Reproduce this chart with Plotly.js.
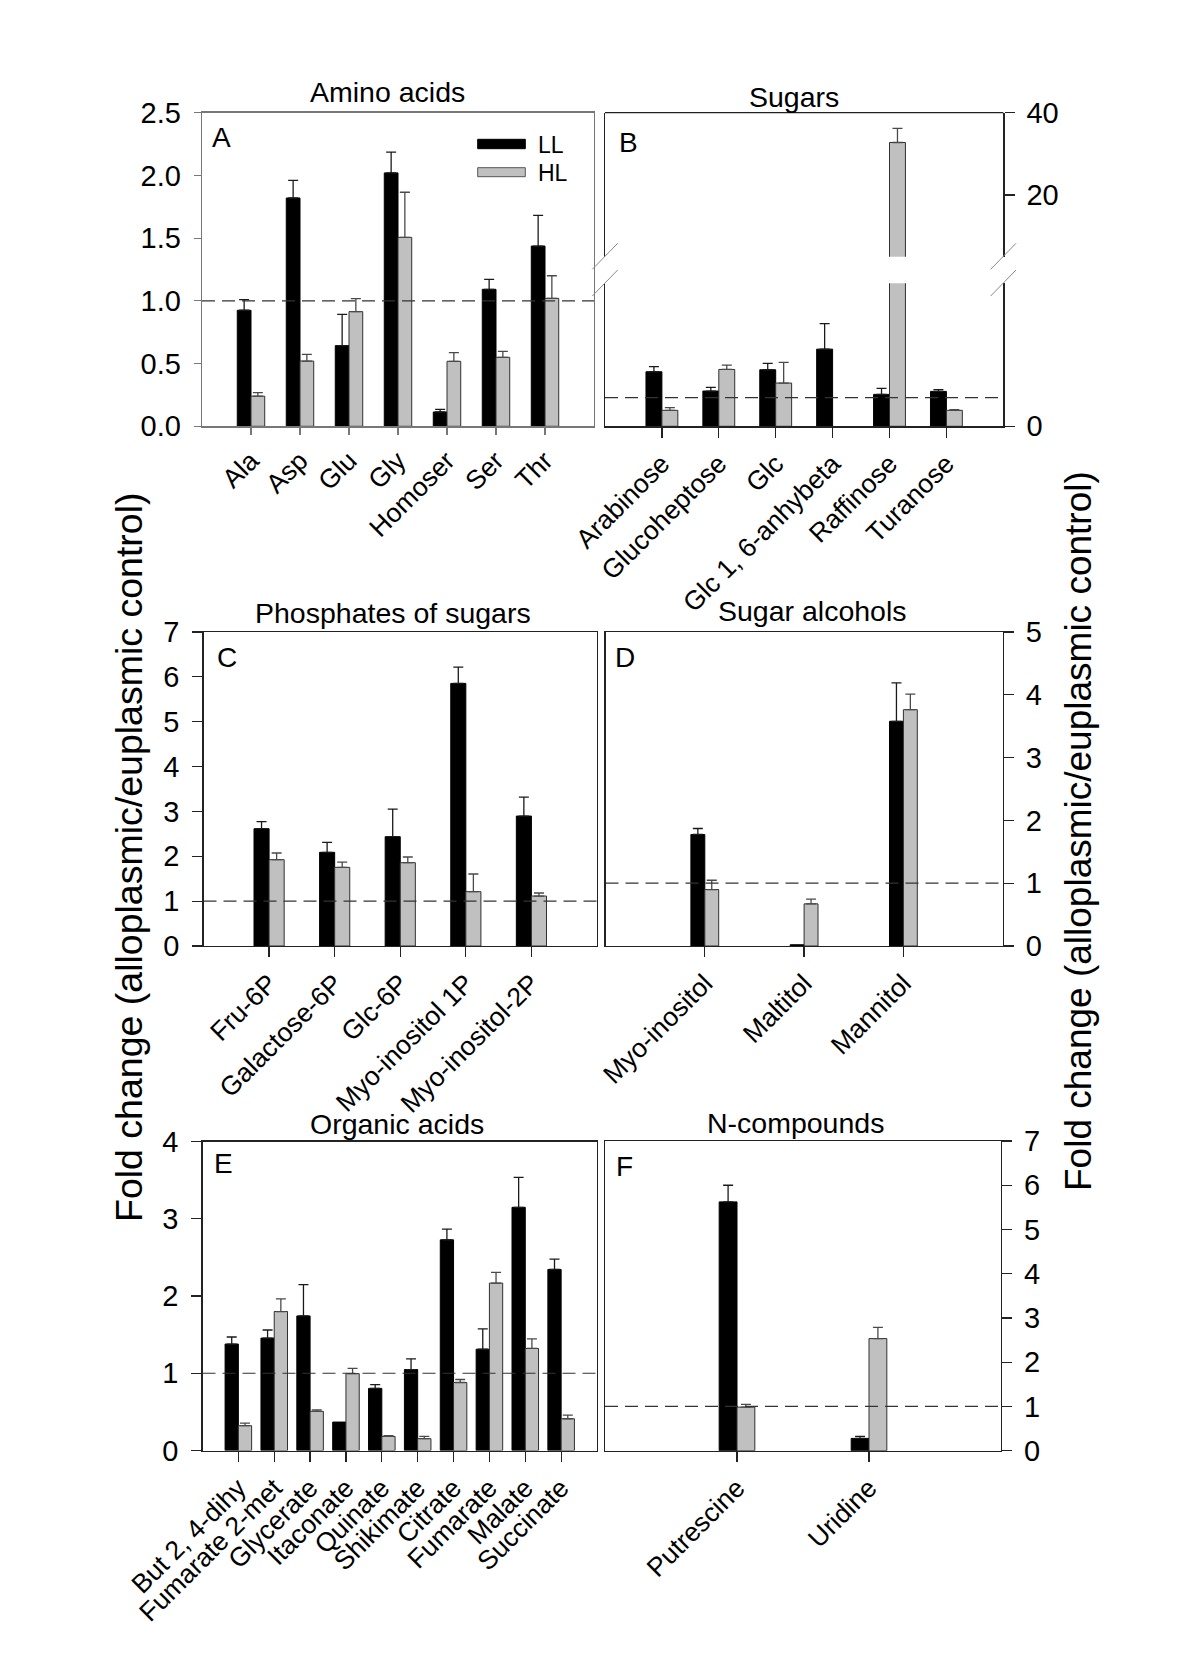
<!DOCTYPE html>
<html><head><meta charset="utf-8">
<script src="https://cdn.plot.ly/plotly-3.0.1.min.js"></script>
<style>html,body{margin:0;padding:0;background:#fff}</style>
</head><body><div id="chart" style="width:1200px;height:1680px"></div>
<script>
// ---------------- DATA ----------------
const aminoCats = ['Ala','Asp','Glu','Gly','Homoser','Ser','Thr'];
const aminoLL    = [0.925, 1.82, 0.643, 2.02, 0.114, 1.092, 1.437];
const aminoLLerr = [0.085, 0.14, 0.25, 0.165, 0.021, 0.08, 0.245];
const aminoHL    = [0.24, 0.52, 0.914, 1.506, 0.518, 0.55, 1.02];
const aminoHLerr = [0.028, 0.054, 0.104, 0.36, 0.069, 0.048, 0.18];

const sugarCats = ['Arabinose','Glucoheptose','Glc','Glc 1, 6-anhybeta','Raffinose','Turanose'];
const sugarLL    = [1.907, 1.233, 1.977, 2.698, 1.116, 1.221];
const sugarLLerr = [0.18, 0.127, 0.22, 0.895, 0.21, 0.058];
const sugarHL    = [0.558, 1.988, 1.512, null, 32.76, 0.558];
const sugarHLerr = [0.093, 0.152, 0.72, NaN, 3.44, 0.022];

const phosCats = ['Fru-6P','Galactose-6P','Glc-6P','Myo-inositol 1P','Myo-inositol-2P'];
const phosLL    = [2.615, 2.088, 2.437, 5.854, 2.897];
const phosLLerr = [0.156, 0.223, 0.616, 0.364, 0.424];
const phosHL    = [1.924, 1.753, 1.857, 1.211, 1.114];
const phosHLerr = [0.149, 0.119, 0.127, 0.394, 0.067];

const alcCats = ['Myo-inositol','Maltitol','Mannitol'];
const alcLL    = [1.776, 0.02, 3.578];
const alcLLerr = [0.095, NaN, 0.613];
const alcHL    = [0.899, 0.671, 3.763];
const alcHLerr = [0.148, 0.074, 0.249];

const orgCats = ['But 2, 4-dihy','Fumarate 2-met','Glycerate','Itaconate','Quinate','Shikimate','Citrate','Fumarate','Malate','Succinate'];
const orgLL    = [1.378, 1.455, 1.742, 0.368, 0.804, 1.048, 2.727, 1.311, 3.148, 2.344];
const orgLLerr = [0.091, 0.105, 0.406, NaN, 0.048, 0.139, 0.139, 0.263, 0.388, 0.134];
const orgHL    = [0.321, 1.799, 0.507, 0.995, 0.182, 0.153, 0.88, 2.167, 1.321, 0.411];
const orgHLerr = [0.033, 0.163, 0.019, 0.067, 0.01, 0.029, 0.039, 0.139, 0.124, 0.048];

const nCats = ['Putrescine','Uridine'];
const nLL    = [5.624, 0.278];
const nLLerr = [0.376, 0.045];
const nHL    = [0.985, 2.534];
const nHLerr = [0.06, 0.255];

const seriesNames = ['LL','HL'];
const panelTitles = ['Amino acids','Sugars','Phosphates of sugars','Sugar alcohols','Organic acids','N-compounds'];
const panelLetters = ['A','B','C','D','E','F'];
const yTitle = 'Fold change (alloplasmic/euplasmic control)';
const refLevel = 1;

// ---------------- HELPERS ----------------
const W = 1200, H = 1680;
const FONT = 'Liberation Sans, Arial, Helvetica, sans-serif';
const px = v => v / W;
const py = v => 1 - v / H;

function bars(cats, ll, llErr, hl, hlErr, w, xa, ya) {
  const mk = (vals, errs, isLL) => ({
    type: 'bar', name: isLL ? seriesNames[0] : seriesNames[1],
    x: cats, y: vals, xaxis: xa, yaxis: ya, width: w, offset: isLL ? -w : 0,
    marker: {color: isLL ? '#000000' : '#c0c0c0', line: {color: isLL ? '#000000' : '#303030', width: 1}},
    error_y: {type: 'data', symmetric: false, array: errs,
      arrayminus: errs.map(e => Number.isFinite(e) ? 0 : NaN),
      color: isLL ? '#1a1a1a' : '#4a4a4a', thickness: 1.3, width: 5},
    showlegend: false, hoverinfo: 'skip', cliponaxis: true
  });
  return [mk(ll, llErr, true), mk(hl, hlErr, false)];
}

function xax(x0, x1, anchor, n, color, mirror, tlen) {
  return {domain: [px(x0), px(x1)], anchor: anchor, type: 'category', range: [-1, n],
    showline: true, linecolor: color, linewidth: 1.3, mirror: mirror,
    ticks: 'outside', ticklen: tlen, tickcolor: color, tickwidth: 1.2, tickangle: -45,
    tickfont: {family: FONT, size: 26.5, color: '#000'}, showgrid: false, zeroline: false, fixedrange: true};
}
function yax(y0, y1, anchor, range, side, color, tlen, extra) {
  return Object.assign({domain: [py(y1), py(y0)], anchor: anchor, range: range, side: side,
    showline: true, linecolor: color, linewidth: 1.3, mirror: true,
    ticks: 'outside', ticklen: tlen, tickcolor: color, tickwidth: 1.2,
    ticklabelstandoff: side === 'left' ? 7 : 6,
    tickfont: {family: FONT, size: 29, color: '#000'}, showgrid: false, zeroline: false, fixedrange: true}, extra || {});
}

// ---------------- TRACES ----------------
let data = [];
data = data.concat(bars(aminoCats, aminoLL, aminoLLerr, aminoHL, aminoHLerr, 0.28, 'x', 'y'));
data = data.concat(bars(sugarCats, sugarLL, sugarLLerr, sugarHL, sugarHLerr, 0.28, 'x2', 'y2'));
data = data.concat(bars(sugarCats, sugarLL, sugarLLerr, sugarHL, sugarHLerr, 0.28, 'x2', 'y7'));
data = data.concat(bars(phosCats, phosLL, phosLLerr, phosHL, phosHLerr, 0.23, 'x3', 'y3'));
data = data.concat(bars(alcCats, alcLL, alcLLerr, alcHL, alcHLerr, 0.14, 'x4', 'y4'));
data = data.concat(bars(orgCats, orgLL, orgLLerr, orgHL, orgHLerr, 0.37, 'x5', 'y5'));
data = data.concat(bars(nCats, nLL, nLLerr, nHL, nHLerr, 0.135, 'x6', 'y6'));

// ---------------- LAYOUT ----------------
const GA = '#777777', GK = '#222222';
const layout = {
  width: W, height: H, margin: {l: 0, r: 0, t: 0, b: 0},
  paper_bgcolor: '#fff', plot_bgcolor: 'rgba(0,0,0,0)',
  barmode: 'overlay', showlegend: false,
  font: {family: FONT, color: '#000'},
  // A
  xaxis:  xax(202, 594, 'y', aminoCats.length, GA, true, 7),
  yaxis:  yax(112.7, 426.3, 'x', [0, 2.5], 'left', GA, 7, {dtick: 0.5, tickformat: '.1f'}),
  // B (broken axis)
  xaxis2: xax(605, 1003.3, 'y2', sugarCats.length, GK, false, 10),
  yaxis2: yax(283.3, 426.3, 'x2', [0, 5], 'right', GK, 10, {tickvals: [0]}),
  yaxis7: yax(112.7, 256.7, 'x2', [5, 40], 'right', GK, 10, {tickvals: [20, 40]}),
  // C
  xaxis3: xax(203.5, 597, 'y3', phosCats.length, GK, true, 10),
  yaxis3: yax(632, 946, 'x3', [0, 7], 'left', GK, 10, {dtick: 1}),
  // D
  xaxis4: xax(605.5, 1002.7, 'y4', alcCats.length, GK, true, 10),
  yaxis4: yax(632, 946, 'x4', [0, 5], 'right', GK, 10, {dtick: 1}),
  // E
  xaxis5: xax(202.5, 597, 'y5', orgCats.length, GK, true, 10),
  yaxis5: yax(1141.5, 1450.5, 'x5', [0, 4], 'left', GK, 10, {dtick: 1}),
  // F
  xaxis6: xax(605, 1001, 'y6', nCats.length, GK, true, 10),
  yaxis6: yax(1141, 1450.7, 'x6', [0, 7], 'right', GK, 10, {dtick: 1}),
  shapes: [],
  annotations: []
};

// reference dashed lines at fold change = 1
[['x','y'],['x2','y2'],['x3','y3'],['x4','y4'],['x5','y5'],['x6','y6']].forEach(([xa, ya]) => {
  layout.shapes.push({type: 'line', xref: xa + ' domain', yref: ya, x0: 0, x1: 1, y0: refLevel, y1: refLevel,
    line: {color: '#333', width: 1.2, dash: '13px,7px'}});
});
// top frame line of B
layout.shapes.push({type: 'line', xref: 'x2 domain', yref: 'y7 domain', x0: 0, x1: 1, y0: 1, y1: 1,
  line: {color: GK, width: 1.3}});
// axis break marks in B
[[592.3, 269.3, 617.7, 243.3], [592.3, 296, 617.7, 270], [990.7, 269.3, 1016, 243.3], [990.7, 296, 1016, 270]].forEach(s => {
  layout.shapes.push({type: 'line', xref: 'paper', yref: 'paper', x0: px(s[0]), y0: py(s[1]), x1: px(s[2]), y1: py(s[3]),
    line: {color: '#888', width: 1}});
});
// legend swatches
layout.shapes.push({type: 'rect', xref: 'paper', yref: 'paper', x0: px(477.7), x1: px(525.3), y0: py(148.7), y1: py(139.3),
  fillcolor: '#000', line: {color: '#000', width: 1}});
layout.shapes.push({type: 'rect', xref: 'paper', yref: 'paper', x0: px(477.7), x1: px(525.3), y0: py(176.7), y1: py(167.7),
  fillcolor: '#c0c0c0', line: {color: '#555', width: 1}});

function ann(text, x, y, size, opts) {
  layout.annotations.push(Object.assign({text: text, xref: 'paper', yref: 'paper', x: px(x), y: py(y),
    xanchor: 'center', yanchor: 'middle', showarrow: false, font: {family: FONT, size: size, color: '#000'}}, opts || {}));
}
// panel titles
const titlePos = [[387, 92], [794, 97], [393, 613], [812, 611], [397, 1124], [795, 1123]];
panelTitles.forEach((t, i) => ann(t, titlePos[i][0], titlePos[i][1], 28.5));
// panel letters
const letterPos = [[221, 137], [628, 142], [227, 658], [625, 658], [223, 1163], [624, 1166]];
panelLetters.forEach((t, i) => ann(t, letterPos[i][0], letterPos[i][1], 28));
// legend text
ann(seriesNames[0], 536, 145, 23, {xanchor: 'left'});
ann(seriesNames[1], 536, 173, 23, {xanchor: 'left'});
// big y titles
ann(yTitle, 129, 857, 37.5, {textangle: -90});
ann(yTitle, 1078, 831, 37, {textangle: -90});

Plotly.newPlot('chart', data, layout, {staticPlot: true, displayModeBar: false});
</script>
</body></html>
